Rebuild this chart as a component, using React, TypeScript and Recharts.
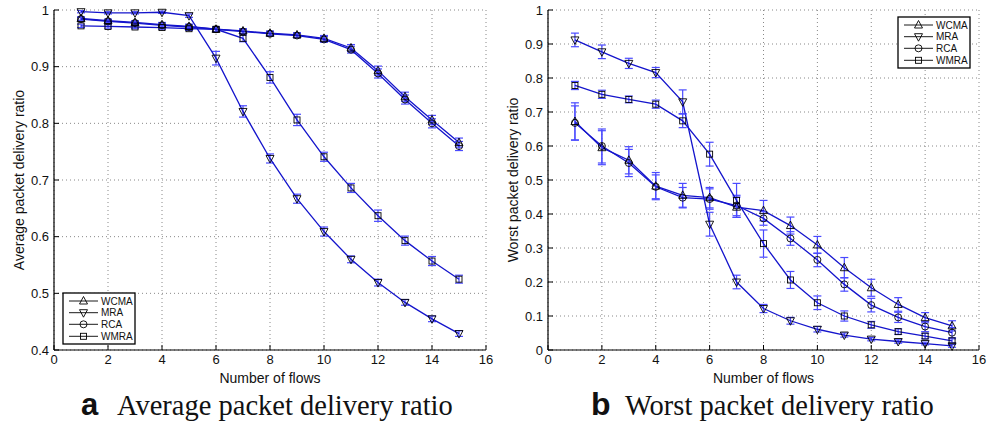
import { CartesianGrid, ErrorBar, Line, LineChart, XAxis, YAxis } from "recharts";

const flows = [1, 2, 3, 4, 5, 6, 7, 8, 9, 10, 11, 12, 13, 14, 15];
const xTicks = [0, 2, 4, 6, 8, 10, 12, 14, 16];
const avgTicks = [0.4, 0.5, 0.6, 0.7, 0.8, 0.9, 1];
const worstTicks = [0, 0.1, 0.2, 0.3, 0.4, 0.5, 0.6, 0.7, 0.8, 0.9, 1];

// (a) average packet delivery ratio
const avgWCMA = [0.985, 0.981, 0.978, 0.974, 0.971, 0.966, 0.963, 0.959, 0.956, 0.95, 0.933, 0.893, 0.847, 0.806, 0.766];
const avgMRA = [0.997, 0.995, 0.995, 0.996, 0.99, 0.915, 0.821, 0.738, 0.667, 0.609, 0.56, 0.519, 0.484, 0.455, 0.429];
const avgRCA = [0.984, 0.98, 0.977, 0.973, 0.97, 0.966, 0.962, 0.958, 0.955, 0.948, 0.93, 0.888, 0.842, 0.8, 0.76];
const avgWMRA = [0.972, 0.971, 0.97, 0.969, 0.967, 0.966, 0.95, 0.881, 0.806, 0.741, 0.686, 0.637, 0.593, 0.557, 0.525];
const avgWCMAErr = [0.003, 0.003, 0.003, 0.004, 0.004, 0.004, 0.004, 0.004, 0.004, 0.005, 0.006, 0.008, 0.008, 0.008, 0.008];
const avgMRAErr = [0.002, 0.002, 0.002, 0.002, 0.003, 0.012, 0.01, 0.008, 0.008, 0.008, 0.006, 0.006, 0.005, 0.005, 0.005];
const avgRCAErr = [0.003, 0.003, 0.003, 0.004, 0.004, 0.004, 0.004, 0.004, 0.004, 0.005, 0.006, 0.008, 0.008, 0.008, 0.008];
const avgWMRAErr = [0.003, 0.003, 0.003, 0.003, 0.003, 0.004, 0.006, 0.01, 0.01, 0.008, 0.008, 0.01, 0.008, 0.008, 0.007];

// (b) worst packet delivery ratio
const worstWCMA = [0.672, 0.595, 0.558, 0.482, 0.455, 0.448, 0.42, 0.41, 0.366, 0.309, 0.242, 0.183, 0.134, 0.095, 0.071];
const worstMRA = [0.912, 0.877, 0.843, 0.816, 0.73, 0.37, 0.2, 0.122, 0.086, 0.061, 0.044, 0.032, 0.025, 0.019, 0.012];
const worstRCA = [0.668, 0.6, 0.55, 0.48, 0.448, 0.444, 0.425, 0.387, 0.328, 0.265, 0.193, 0.132, 0.096, 0.069, 0.051];
const worstWMRA = [0.778, 0.752, 0.737, 0.723, 0.674, 0.576, 0.44, 0.313, 0.206, 0.139, 0.1, 0.074, 0.054, 0.041, 0.027];
const worstWCMAErr = [0.055, 0.05, 0.04, 0.04, 0.035, 0.03, 0.03, 0.03, 0.025, 0.025, 0.03, 0.025, 0.02, 0.015, 0.015];
const worstMRAErr = [0.02, 0.02, 0.015, 0.015, 0.035, 0.035, 0.02, 0.012, 0.01, 0.008, 0.006, 0.005, 0.005, 0.004, 0.004];
const worstRCAErr = [0.05, 0.05, 0.04, 0.035, 0.03, 0.03, 0.03, 0.02, 0.02, 0.02, 0.02, 0.02, 0.015, 0.015, 0.015];
const worstWMRAErr = [0.012, 0.012, 0.01, 0.012, 0.02, 0.035, 0.05, 0.04, 0.025, 0.02, 0.015, 0.01, 0.008, 0.008, 0.006];

const names = ["WCMA", "MRA", "RCA", "WMRA"];

type Shape = "up" | "down" | "circle" | "square";
const shapes: Record<string, Shape> = { WCMA: "up", MRA: "down", RCA: "circle", WMRA: "square" };

const LINE = "#1414cc";
const ERR = "#4a4aff";
const SANS = "'Liberation Sans', Arial, Helvetica, sans-serif";
const SERIF = "'Liberation Serif', 'Times New Roman', serif";

const avgRows = flows.map((f, i) => ({
  flows: f,
  WCMA: avgWCMA[i], WCMAErr: avgWCMAErr[i],
  MRA: avgMRA[i], MRAErr: avgMRAErr[i],
  RCA: avgRCA[i], RCAErr: avgRCAErr[i],
  WMRA: avgWMRA[i], WMRAErr: avgWMRAErr[i],
}));

const worstRows = flows.map((f, i) => ({
  flows: f,
  WCMA: worstWCMA[i], WCMAErr: worstWCMAErr[i],
  MRA: worstMRA[i], MRAErr: worstMRAErr[i],
  RCA: worstRCA[i], RCAErr: worstRCAErr[i],
  WMRA: worstWMRA[i], WMRAErr: worstWMRAErr[i],
}));

function Marker({ cx, cy, shape }: { cx?: number; cy?: number; shape: Shape }) {
  if (cx == null || cy == null) return null;
  const s = { fill: "none", stroke: "#000", strokeWidth: 0.9 };
  if (shape === "up") return <polygon points={`${cx},${cy - 4.5} ${cx - 4},${cy + 3} ${cx + 4},${cy + 3}`} {...s} />;
  if (shape === "down") return <polygon points={`${cx},${cy + 4.5} ${cx - 4},${cy - 3} ${cx + 4},${cy - 3}`} {...s} />;
  if (shape === "circle") return <circle cx={cx} cy={cy} r={3.5} {...s} />;
  return <rect x={cx - 3} y={cy - 3} width={6} height={6} {...s} />;
}

function Panel({ left, right, rows, ticks, yLabel }: { left: number; right: number; rows: any[]; ticks: number[]; yLabel: string }) {
  const domain: [number, number] = [ticks[0], ticks[ticks.length - 1]];
  const tickStyle = { fill: "#111", fontSize: 13, fontFamily: SANS };
  return (
    <div style={{ position: "absolute", left, top: 0 }}>
      <LineChart width={500} height={390} data={rows} margin={{ top: 10, right, bottom: 7, left: 0 }}>
        <CartesianGrid stroke="#888" strokeDasharray="1 3" />
        <XAxis
          dataKey="flows"
          type="number"
          domain={[0, 16]}
          ticks={xTicks}
          height={33}
          tickSize={-5}
          tickMargin={10}
          tick={tickStyle}
          axisLine={{ stroke: "#000", strokeWidth: 1.2 }}
          tickLine={{ stroke: "#000" }}
          label={{ value: "Number of flows", position: "insideBottom", offset: 0, fill: "#111", fontSize: 14, fontFamily: SANS }}
        />
        <XAxis
          xAxisId="top"
          orientation="top"
          type="number"
          domain={[0, 16]}
          ticks={xTicks}
          height={0}
          tick={false}
          tickSize={-5}
          axisLine={{ stroke: "#000", strokeWidth: 1.2 }}
          tickLine={{ stroke: "#000" }}
        />
        <YAxis
          type="number"
          domain={domain}
          ticks={ticks}
          width={54}
          tickSize={-5}
          tickMargin={10}
          tick={tickStyle}
          tickFormatter={(v: number) => String(v)}
          axisLine={{ stroke: "#000", strokeWidth: 1.2 }}
          tickLine={{ stroke: "#000" }}
          label={{ value: yLabel, angle: -90, position: "insideLeft", offset: 19, fill: "#111", fontSize: 14, fontFamily: SANS, style: { textAnchor: "middle" } }}
        />
        <YAxis
          yAxisId="right"
          orientation="right"
          type="number"
          domain={domain}
          ticks={ticks}
          width={0}
          tick={false}
          tickSize={-5}
          axisLine={{ stroke: "#000", strokeWidth: 1.2 }}
          tickLine={{ stroke: "#000" }}
        />
        {names.map((n) => (
          <Line
            key={n}
            dataKey={n}
            stroke={LINE}
            strokeWidth={1.3}
            isAnimationActive={false}
            dot={(p: any) => <Marker key={`${n}-${p.index}`} cx={p.cx} cy={p.cy} shape={shapes[n]} />}
            activeDot={false}
          >
            <ErrorBar dataKey={`${n}Err`} direction="y" width={4} stroke={ERR} strokeWidth={1.2} isAnimationActive={false} />
          </Line>
        ))}
      </LineChart>
    </div>
  );
}

function LegendBox({ x, y }: { x: number; y: number }) {
  const rows = [8, 19.7, 31.3, 43.3];
  return (
    <g transform={`translate(${x},${y})`}>
      <rect x={0} y={0} width={72} height={51} fill="#fff" stroke="#000" strokeWidth={1.3} />
      {names.map((n, i) => (
        <g key={n}>
          <line x1={6} x2={35} y1={rows[i]} y2={rows[i]} stroke="#000" strokeWidth={0.9} />
          <Marker cx={20.5} cy={rows[i]} shape={shapes[n]} />
          <text x={38} y={rows[i] + 3.6} fontSize={10} fontFamily={SANS} fill="#111">
            {n}
          </text>
        </g>
      ))}
    </g>
  );
}

export default function App() {
  return (
    <div style={{ position: "absolute", left: 0, top: 0, width: 1006, height: 423, background: "#fff", overflow: "hidden" }}>
      <Panel left={0} right={14} rows={avgRows} ticks={avgTicks} yLabel="Average packet delivery ratio" />
      <Panel left={494} right={15} rows={worstRows} ticks={worstTicks} yLabel="Worst packet delivery ratio" />
      <svg width={1006} height={423} style={{ position: "absolute", left: 0, top: 0, pointerEvents: "none" }}>
        <LegendBox x={63} y={293} />
        <LegendBox x={898} y={17} />
        <text x={81} y={415} fontSize={31} fontWeight="bold" fontFamily={SANS} fill="#111">a</text>
        <text x={117} y={415} fontSize={28.5} fontFamily={SERIF} fill="#111">Average packet delivery ratio</text>
        <text x={591} y={415} fontSize={32} fontWeight="bold" fontFamily={SANS} fill="#111">b</text>
        <text x={625} y={415} fontSize={28.5} fontFamily={SERIF} fill="#111">Worst packet delivery ratio</text>
      </svg>
    </div>
  );
}
